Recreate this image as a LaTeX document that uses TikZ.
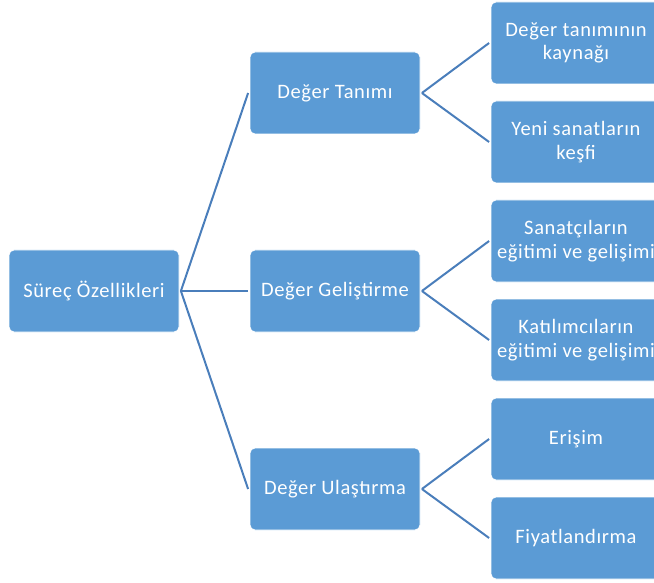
\documentclass[tikz,border=0pt]{standalone}
\usepackage{fontspec}
\setmainfont{Carlito}[LetterSpace=3]
\definecolor{boxfill}{HTML}{5B9BD5}
\definecolor{linkcol}{HTML}{4A7EBB}
\begin{document}
\begin{tikzpicture}[x=1pt,y=-1pt,
  box/.style={draw=white,line width=0.8pt,fill=boxfill,rounded corners=5pt,
    minimum width=170pt,minimum height=82pt,text=white,align=center,
    font=\fontsize{20.5}{23.5}\selectfont,inner sep=0pt},
  link/.style={draw=linkcol,line width=2pt}]
\useasboundingbox (0,0) rectangle (654,583);
\clip (0,0) rectangle (654,583);
\node[box] (root) at (94,291) {Süreç Özellikleri};
\node[box] (a) at (335,93) {Değer Tanımı};
\node[box] (b) at (335,291) {Değer Geliştirme};
\node[box] (c) at (335,489) {Değer Ulaştırma};
\node[box] (a1) at (576,43) {Değer tanımının\\kaynağı};
\node[box] (a2) at (576,142) {Yeni sanatların\\keşfi};
\node[box] (b1) at (576,241) {Sanatçıların\\eğitimi ve gelişimi};
\node[box] (b2) at (576,340) {Katılımcıların\\eğitimi ve gelişimi};
\node[box] (c1) at (576,439) {Erişim};
\node[box] (c2) at (576,538) {Fiyatlandırma};
\foreach \p/\k in {root/a,root/b,root/c,a/a1,a/a2,b/b1,b/b2,c/c1,c/c2}
  \draw[link] ([xshift=1.5pt]\p.east) -- ([xshift=-1.5pt]\k.west);
\end{tikzpicture}
\end{document}
